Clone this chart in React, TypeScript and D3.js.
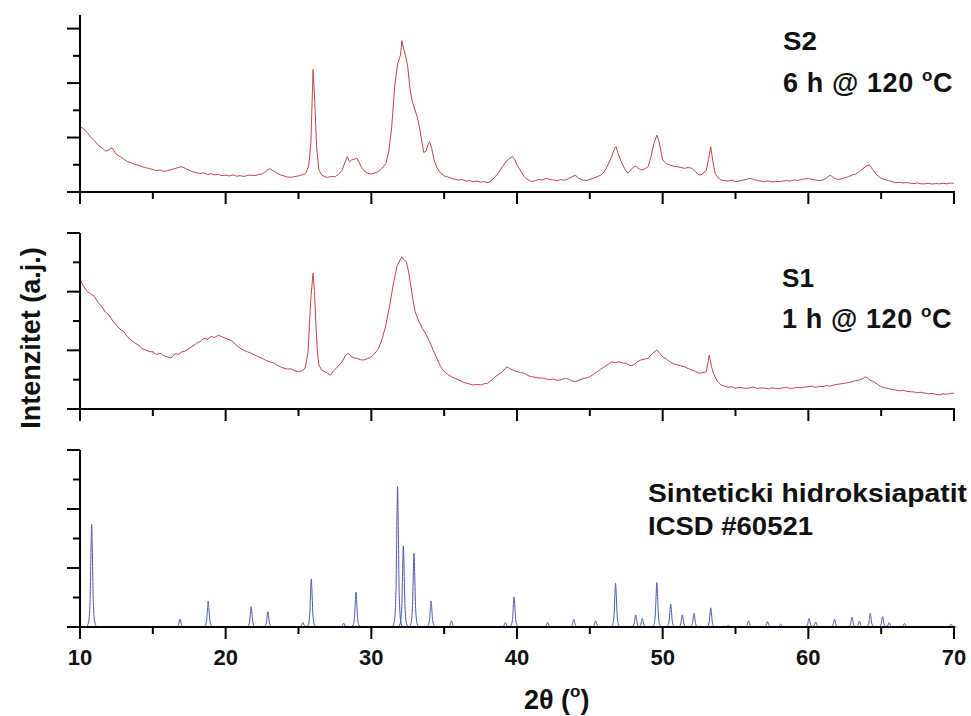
import React from "react";
import * as d3 from "d3";

// ---------- Data ----------
// S2: 6 h @ 120 °C  — [2θ, intensity]
const s2Pattern: [number, number][] = [
  [10.0, 240], [10.25, 232], [10.5, 218], [10.75, 200], [11.0, 188], [11.25, 172], [11.5, 163], [11.75, 150],
  [12.0, 156], [12.2, 162], [12.5, 138], [12.75, 130], [13.0, 121], [13.25, 112], [13.5, 108], [13.75, 101],
  [14.0, 99], [14.25, 93], [14.5, 90], [14.75, 86], [15.0, 83], [15.25, 78], [15.5, 81], [15.75, 76],
  [16.0, 78], [16.25, 82], [16.5, 86], [16.75, 90], [17.0, 93], [17.25, 86], [17.5, 80], [17.75, 74],
  [18.0, 71], [18.25, 68], [18.5, 70], [18.75, 64], [19.0, 67], [19.25, 63], [19.5, 65], [19.75, 60],
  [20.0, 62], [20.25, 59], [20.5, 63], [20.75, 58], [21.0, 60], [21.25, 57], [21.5, 61], [21.75, 62],
  [22.0, 60], [22.25, 64], [22.5, 66], [22.75, 75], [23.0, 86], [23.25, 78], [23.5, 70], [23.75, 63],
  [24.0, 59], [24.25, 55], [24.5, 54], [24.75, 57], [25.0, 59], [25.25, 63], [25.5, 69], [25.7, 95],
  [25.85, 180], [26.0, 450], [26.12, 330], [26.25, 160], [26.4, 81], [26.6, 62], [26.8, 56], [27.0, 54],
  [27.25, 57], [27.5, 56], [27.75, 65], [28.0, 81], [28.2, 110], [28.35, 130], [28.5, 111], [28.65, 118],
  [28.8, 120], [29.0, 124], [29.15, 110], [29.3, 93], [29.5, 78], [29.75, 69], [30.0, 66], [30.25, 70],
  [30.5, 75], [30.75, 88], [31.0, 105], [31.2, 150], [31.4, 240], [31.6, 385], [31.8, 470], [32.0, 503],
  [32.1, 556], [32.2, 530], [32.35, 500], [32.5, 460], [32.65, 380], [32.8, 335], [33.0, 301], [33.15, 275],
  [33.3, 240], [33.45, 190], [33.6, 145], [33.75, 150], [33.9, 175], [34.0, 185], [34.15, 160], [34.3, 118],
  [34.5, 90], [34.75, 70], [35.0, 59], [35.25, 55], [35.5, 50], [35.75, 47], [36.0, 44], [36.25, 46],
  [36.5, 40], [36.75, 42], [37.0, 38], [37.25, 40], [37.5, 36], [37.75, 38], [38.0, 34], [38.25, 42],
  [38.5, 56], [38.75, 72], [39.0, 93], [39.25, 112], [39.5, 124], [39.7, 130], [39.85, 118], [40.0, 99],
  [40.25, 78], [40.5, 56], [40.75, 45], [41.0, 38], [41.25, 42], [41.5, 46], [41.75, 44], [42.0, 50],
  [42.25, 46], [42.5, 44], [42.75, 41], [43.0, 46], [43.25, 43], [43.5, 48], [43.75, 55], [44.0, 62],
  [44.25, 50], [44.5, 44], [44.75, 42], [45.0, 46], [45.25, 50], [45.5, 56], [45.75, 62], [46.0, 75],
  [46.25, 100], [46.5, 130], [46.7, 160], [46.8, 166], [46.95, 140], [47.2, 105], [47.4, 85], [47.6, 69],
  [47.8, 80], [48.0, 92], [48.15, 95], [48.3, 88], [48.5, 81], [48.75, 84], [49.0, 93], [49.2, 130],
  [49.4, 179], [49.6, 209], [49.75, 185], [50.0, 118], [50.25, 104], [50.5, 99], [50.75, 95], [51.0, 93],
  [51.25, 90], [51.5, 87], [51.75, 90], [52.0, 87], [52.25, 75], [52.5, 62], [52.75, 66], [53.0, 81],
  [53.15, 120], [53.3, 166], [53.45, 110], [53.6, 69], [53.8, 52], [54.0, 44], [54.25, 42], [54.5, 40],
  [54.75, 44], [55.0, 38], [55.25, 40], [55.5, 44], [55.75, 46], [56.0, 50], [56.25, 46], [56.5, 42],
  [56.75, 40], [57.0, 38], [57.25, 41], [57.5, 37], [57.75, 39], [58.0, 38], [58.25, 40], [58.5, 42],
  [58.75, 40], [59.0, 44], [59.25, 42], [59.5, 46], [59.75, 48], [60.0, 50], [60.25, 46], [60.5, 44],
  [60.75, 42], [61.0, 44], [61.25, 52], [61.5, 62], [61.75, 52], [62.0, 46], [62.25, 48], [62.5, 52],
  [62.75, 56], [63.0, 62], [63.25, 66], [63.5, 75], [63.75, 86], [64.0, 96], [64.2, 100], [64.4, 84],
  [64.6, 69], [64.8, 58], [65.0, 50], [65.25, 46], [65.5, 42], [65.75, 38], [66.0, 34], [66.25, 36],
  [66.5, 33], [66.75, 35], [67.0, 32], [67.25, 31], [67.5, 33], [67.75, 30], [68.0, 30], [68.25, 32],
  [68.5, 29], [68.75, 31], [69.0, 30], [69.25, 32], [69.5, 30], [69.75, 33], [70.0, 32],
];

// S1: 1 h @ 120 °C — [2θ, intensity]
const s1Pattern: [number, number][] = [
  [10.0, 60], [10.02, 440], [10.25, 418], [10.5, 400], [10.75, 392], [11.0, 383], [11.25, 362], [11.5, 349],
  [11.75, 330], [12.0, 320], [12.25, 300], [12.5, 286], [12.75, 272], [13.0, 264], [13.25, 246], [13.5, 235],
  [13.75, 226], [14.0, 218], [14.25, 206], [14.5, 201], [14.75, 196], [15.0, 195], [15.25, 186], [15.5, 190],
  [15.75, 182], [16.0, 178], [16.25, 174], [16.5, 188], [16.75, 186], [17.0, 195], [17.25, 198], [17.5, 207],
  [17.75, 215], [18.0, 224], [18.25, 230], [18.5, 241], [18.75, 238], [19.0, 247], [19.25, 244], [19.5, 252],
  [19.75, 246], [20.0, 241], [20.25, 236], [20.5, 230], [20.75, 216], [21.0, 207], [21.25, 200], [21.5, 195],
  [21.75, 190], [22.0, 184], [22.25, 178], [22.5, 173], [22.75, 166], [23.0, 161], [23.25, 158], [23.5, 150],
  [23.75, 144], [24.0, 139], [24.25, 136], [24.5, 137], [24.75, 130], [25.0, 127], [25.25, 130], [25.45, 139],
  [25.65, 190], [25.85, 380], [26.0, 463], [26.1, 400], [26.2, 286], [26.3, 190], [26.4, 150], [26.6, 132],
  [26.8, 127], [27.0, 122], [27.2, 116], [27.4, 130], [27.6, 139], [27.8, 150], [28.0, 161], [28.2, 180],
  [28.4, 190], [28.6, 180], [28.8, 174], [29.0, 173], [29.25, 168], [29.5, 167], [29.75, 172], [30.0, 178],
  [30.25, 190], [30.5, 207], [30.75, 240], [31.0, 286], [31.25, 350], [31.5, 423], [31.75, 485], [32.0, 510],
  [32.1, 519], [32.25, 508], [32.4, 502], [32.55, 470], [32.7, 423], [32.85, 375], [33.0, 332], [33.25, 300],
  [33.5, 275], [33.75, 255], [34.0, 230], [34.25, 200], [34.5, 173], [34.75, 145], [35.0, 127], [35.25, 118],
  [35.5, 110], [35.75, 104], [36.0, 99], [36.25, 93], [36.5, 88], [36.75, 85], [37.0, 82], [37.25, 84],
  [37.5, 82], [37.75, 86], [38.0, 88], [38.25, 98], [38.5, 110], [38.75, 118], [39.0, 127], [39.3, 144],
  [39.5, 138], [39.75, 132], [40.0, 127], [40.25, 124], [40.5, 122], [40.75, 114], [41.0, 110], [41.25, 108],
  [41.5, 105], [41.75, 106], [42.0, 103], [42.25, 100], [42.5, 102], [42.75, 98], [43.0, 99], [43.25, 104],
  [43.5, 103], [43.75, 96], [44.0, 93], [44.25, 98], [44.5, 103], [44.75, 106], [45.0, 110], [45.25, 118],
  [45.5, 127], [45.75, 136], [46.0, 144], [46.25, 152], [46.5, 161], [46.75, 158], [47.0, 161], [47.25, 157],
  [47.5, 156], [47.75, 148], [48.0, 150], [48.25, 160], [48.5, 167], [48.75, 170], [49.0, 173], [49.3, 190],
  [49.6, 201], [49.8, 190], [50.0, 178], [50.25, 170], [50.5, 161], [50.75, 154], [51.0, 150], [51.25, 147],
  [51.5, 144], [51.75, 138], [52.0, 133], [52.25, 128], [52.5, 122], [52.75, 124], [53.0, 127], [53.2, 184],
  [53.35, 145], [53.5, 120], [53.75, 95], [54.0, 82], [54.25, 78], [54.5, 74], [54.75, 76], [55.0, 71],
  [55.25, 74], [55.5, 72], [55.75, 70], [56.0, 73], [56.25, 75], [56.5, 70], [56.75, 72], [57.0, 71],
  [57.25, 68], [57.5, 72], [57.75, 70], [58.0, 69], [58.25, 72], [58.5, 74], [58.75, 70], [59.0, 71],
  [59.25, 74], [59.5, 72], [59.75, 75], [60.0, 76], [60.25, 78], [60.5, 74], [60.75, 77], [61.0, 76],
  [61.25, 80], [61.5, 78], [61.75, 82], [62.0, 84], [62.25, 86], [62.5, 88], [62.75, 90], [63.0, 93],
  [63.25, 96], [63.5, 99], [63.75, 104], [63.9, 110], [64.1, 104], [64.25, 98], [64.5, 93], [64.75, 84],
  [65.0, 76], [65.25, 72], [65.5, 70], [65.75, 66], [66.0, 65], [66.25, 62], [66.5, 64], [66.75, 60],
  [67.0, 59], [67.25, 58], [67.5, 56], [67.75, 57], [68.0, 54], [68.25, 52], [68.5, 53], [68.75, 50],
  [69.0, 48], [69.25, 52], [69.5, 50], [69.75, 53], [70.0, 54],
];

// Reference pattern (ICSD #60521): reflection positions and heights
const refPositions = [
  10.8, 16.87, 18.8, 21.75, 22.9, 25.3, 25.88, 28.1, 28.95, 31.8, 32.2, 32.93, 34.1, 35.5,
  39.2, 39.8, 42.1, 43.9, 45.4, 46.77, 48.15, 48.6, 49.6, 50.55, 51.35, 52.15, 53.3, 54.5,
  55.9, 57.2, 58.1, 60.05, 60.5, 61.8, 63.0, 63.5, 64.25, 65.1, 65.55, 66.6, 69.8,
];
const refHeights = [
  348, 27, 88, 69, 52, 15, 163, 13, 118, 476, 275, 250, 88, 21,
  15, 102, 15, 26, 21, 148, 41, 29, 151, 78, 41, 46, 65, 6,
  21, 18, 10, 29, 17, 26, 33, 20, 46, 35, 15, 12, 10,
];

const xTicks = [10, 15, 20, 25, 30, 35, 40, 45, 50, 55, 60, 65, 70];
const xTickLabels = ["10", "20", "30", "40", "50", "60", "70"];
const yTicks = [0, 100, 200, 300, 400, 500, 600];

const panelLabels = [
  ["S2", "6 h @ 120 "],
  ["S1", "1 h @ 120 "],
  ["Sinteticki hidroksiapatit", "ICSD #60521"],
];

// ---------- Layout ----------
const W = 971;
const H = 716;
const FONT = "'Liberation Sans', Arial, Helvetica, sans-serif";
const RED = "#c2454a";
const BLUE = "#4b56ad";

const x = d3.scaleLinear().domain([10, 70]).range([80, 954]);

const panels = [
  { y: d3.scaleLinear().domain([0, 650]).range([192, 15]), top: 15 },
  { y: d3.scaleLinear().domain([0, 600]).range([409, 233]), top: 233 },
  { y: d3.scaleLinear().domain([0, 600]).range([627, 450]), top: 450 },
];

// peak profile template (shape only; offsets in degrees and fraction of height)
const PEAK_SHAPE: [number, number][] = [
  [-0.36, 0], [-0.22, 0.04], [-0.11, 0.25], [-0.045, 0.75], [0, 1], [0.045, 0.75], [0.11, 0.25], [0.22, 0.04], [0.36, 0],
];

function Axes({ p, showLabels }: { p: (typeof panels)[number]; showLabels: boolean }) {
  const bottom = p.y(0);
  return (
    <g stroke="#000" strokeWidth={2} fill="none">
      <line x1={x(10)} x2={x(10)} y1={p.top} y2={bottom + 1} />
      <line x1={x(10) - 13} x2={x(70) + 1} y1={bottom} y2={bottom} />
      {yTicks.map((t) => {
        const major = t % 200 === 0;
        return <line key={t} x1={x(10) - (major ? 13 : 7)} x2={x(10)} y1={p.y(t)} y2={p.y(t)} />;
      })}
      {xTicks.map((t) => {
        const major = t % 10 === 0;
        return <line key={t} x1={x(t)} x2={x(t)} y1={bottom} y2={bottom + (major ? 12 : 7)} />;
      })}
      {showLabels &&
        xTickLabels.map((l) => (
          <text
            key={l}
            x={x(+l)}
            y={bottom + 38}
            textAnchor="middle"
            fontFamily={FONT}
            fontWeight="bold"
            fontSize={22}
            fill="#111"
            stroke="none"
          >
            {l}
          </text>
        ))}
    </g>
  );
}

export default function App() {
  const line1 = d3
    .line<[number, number]>()
    .x((d) => x(d[0]))
    .y((d) => panels[0].y(d[1]));
  const line2 = d3
    .line<[number, number]>()
    .x((d) => x(d[0]))
    .y((d) => panels[1].y(d[1]));
  const peakLine = d3
    .line<[number, number]>()
    .x((d) => x(d[0]))
    .y((d) => panels[2].y(d[1]))
    .curve(d3.curveMonotoneX);

  const labelStyle = {
    fontFamily: FONT,
    fontWeight: "bold" as const,
    fontSize: 26,
    fill: "#111",
  };

  return (
    <svg width={W} height={H} style={{ position: "absolute", left: 0, top: 0, background: "#fff" }}>
      <rect width={W} height={H} fill="#fff" />

      {/* data */}
      <path d={line1(s2Pattern) || ""} fill="none" stroke={RED} strokeWidth={1} />
      <path d={line2(s1Pattern) || ""} fill="none" stroke={RED} strokeWidth={1} />
      <line x1={x(10)} x2={x(70)} y1={panels[2].y(0)} y2={panels[2].y(0)} stroke={BLUE} strokeWidth={1} />
      {refPositions.map((pos, i) => (
        <path
          key={i}
          d={peakLine(PEAK_SHAPE.map(([dx, f]) => [pos + dx, f * refHeights[i]] as [number, number])) || ""}
          fill="none"
          stroke={BLUE}
          strokeWidth={1}
        />
      ))}

      {/* axes */}
      {panels.map((p, i) => (
        <Axes key={i} p={p} showLabels={i === 2} />
      ))}

      {/* panel labels */}
      <text x={783} y={50} {...labelStyle} textLength={34} lengthAdjust="spacingAndGlyphs">
        {panelLabels[0][0]}
      </text>
      <text x={783} y={92} {...labelStyle} fontSize={27} letterSpacing={0.6}>
        {panelLabels[0][1]}
        <tspan fontSize={17} dy={-11}>o</tspan>
        <tspan dy={11}>C</tspan>
      </text>
      <text x={782} y={287} {...labelStyle} textLength={32} lengthAdjust="spacingAndGlyphs">
        {panelLabels[1][0]}
      </text>
      <text x={782} y={328} {...labelStyle} fontSize={27} letterSpacing={0.6}>
        {panelLabels[1][1]}
        <tspan fontSize={17} dy={-11}>o</tspan>
        <tspan dy={11}>C</tspan>
      </text>
      <text x={648} y={502} {...labelStyle} textLength={319} lengthAdjust="spacingAndGlyphs">
        {panelLabels[2][0]}
      </text>
      <text x={648} y={535} {...labelStyle} textLength={165} lengthAdjust="spacingAndGlyphs">
        {panelLabels[2][1]}
      </text>

      {/* axis titles */}
      <text x={524} y={709} fontFamily={FONT} fontWeight="bold" fontSize={27} fill="#111">
        2θ (<tspan fontSize={17} dy={-12}>o</tspan>
        <tspan dy={12}>)</tspan>
      </text>
      <text
        transform="translate(40,338) rotate(-90)"
        textAnchor="middle"
        fontFamily={FONT}
        fontWeight="bold"
        fontSize={27}
        fill="#111"
      >
        Intenzitet (a.j.)
      </text>
    </svg>
  );
}
